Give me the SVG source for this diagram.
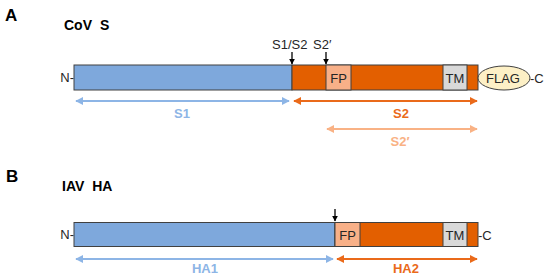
<svg xmlns="http://www.w3.org/2000/svg" width="550" height="280" viewBox="0 0 550 280">
<defs>
<style>
text{font-family:"Liberation Sans",Arial,sans-serif;}
.pl{font-size:17px;font-weight:bold;fill:#000;}
.tt{font-size:14px;font-weight:bold;fill:#000;word-spacing:4px;}
.seg{stroke:#404040;stroke-width:1;}
.blue{fill:#7ea8dc;}
.or{fill:#e35f00;}
.fp{fill:#f8b088;}
.tm{fill:#d9d9d9;}
.lab{font-size:13px;fill:#262626;}
.dl{font-size:13px;font-weight:bold;text-anchor:middle;}
.cut{stroke:#000;stroke-width:1.3;marker-end:url(#blk);}
</style>
<marker id="blk" viewBox="0 0 10 10" refX="9" refY="5" markerWidth="6" markerHeight="6" orient="auto" markerUnits="userSpaceOnUse"><path d="M0,0L10,5L0,10z" fill="#000"/></marker>
<marker id="ab" viewBox="0 0 10 10" refX="9" refY="5" markerWidth="8" markerHeight="8" orient="auto-start-reverse" markerUnits="userSpaceOnUse"><path d="M0,0L10,5L0,10z" fill="#8db5e6"/></marker>
<marker id="ao" viewBox="0 0 10 10" refX="9" refY="5" markerWidth="8" markerHeight="8" orient="auto-start-reverse" markerUnits="userSpaceOnUse"><path d="M0,0L10,5L0,10z" fill="#ea6a1a"/></marker>
<marker id="ap" viewBox="0 0 10 10" refX="9" refY="5" markerWidth="8" markerHeight="8" orient="auto-start-reverse" markerUnits="userSpaceOnUse"><path d="M0,0L10,5L0,10z" fill="#f9b285"/></marker>
</defs>
<rect width="550" height="280" fill="#fff"/>
<text class="pl" x="5" y="21">A</text>
<text class="tt" x="64" y="30">CoV S</text>
<text class="pl" x="6" y="182">B</text>
<text class="tt" x="62" y="191">IAV HA</text>

<g id="cov-s">
<text class="lab" x="74" y="82" text-anchor="end">N-</text>
<rect class="seg blue" x="74" y="65" width="218" height="25"/>
<rect class="seg or" x="292" y="65" width="186" height="25"/>
<rect class="seg fp" x="326" y="65" width="25" height="25"/>
<rect class="seg tm" x="443" y="65" width="24" height="25"/>
<text class="lab" x="338.5" y="82.5" text-anchor="middle">FP</text>
<text class="lab" x="455" y="82.5" text-anchor="middle">TM</text>
<ellipse cx="504" cy="78" rx="26" ry="12" fill="#fdf0c6" stroke="#404040"/>
<text class="lab" x="503" y="82.5" text-anchor="middle">FLAG</text>
<text class="lab" x="530" y="82.5">-C</text>
<text class="lab" x="272" y="49">S1/S2</text>
<text class="lab" x="313" y="49">S2′</text>
</g>

<g id="iav-ha">
<text class="lab" x="74" y="239" text-anchor="end">N-</text>
<rect class="seg blue" x="74" y="222.5" width="261" height="24"/>
<rect class="seg or" x="335" y="222.5" width="143" height="24"/>
<rect class="seg fp" x="335" y="222.5" width="25" height="24"/>
<rect class="seg tm" x="443" y="222.5" width="24" height="24"/>
<text class="lab" x="347.5" y="239.5" text-anchor="middle">FP</text>
<text class="lab" x="455" y="239.5" text-anchor="middle">TM</text>
<text class="lab" x="478" y="239.5">-C</text>
</g>

<g id="connectors">
<line class="cut" x1="292" y1="52" x2="292" y2="64"/>
<line class="cut" x1="326" y1="52" x2="326" y2="64"/>
<line class="cut" x1="335" y1="209" x2="335" y2="221"/>
<line x1="76" y1="101" x2="289" y2="101" stroke="#8db5e6" stroke-width="2" marker-start="url(#ab)" marker-end="url(#ab)"/>
<line x1="294" y1="101" x2="477" y2="101" stroke="#ea6a1a" stroke-width="2" marker-start="url(#ao)" marker-end="url(#ao)"/>
<line x1="327" y1="129" x2="477" y2="129" stroke="#f9b285" stroke-width="2" marker-start="url(#ap)" marker-end="url(#ap)"/>
<line x1="76" y1="259" x2="333" y2="259" stroke="#8db5e6" stroke-width="2" marker-start="url(#ab)" marker-end="url(#ab)"/>
<line x1="337" y1="259" x2="477" y2="259" stroke="#ea6a1a" stroke-width="2" marker-start="url(#ao)" marker-end="url(#ao)"/>
</g>

<text class="dl" x="182" y="118" fill="#8db5e6">S1</text>
<text class="dl" x="401" y="118" fill="#ea6a1a">S2</text>
<text class="dl" x="400" y="146" fill="#f9b285">S2′</text>
<text class="dl" x="205" y="273" fill="#8db5e6">HA1</text>
<text class="dl" x="406" y="273" fill="#ea6a1a">HA2</text>
</svg>
